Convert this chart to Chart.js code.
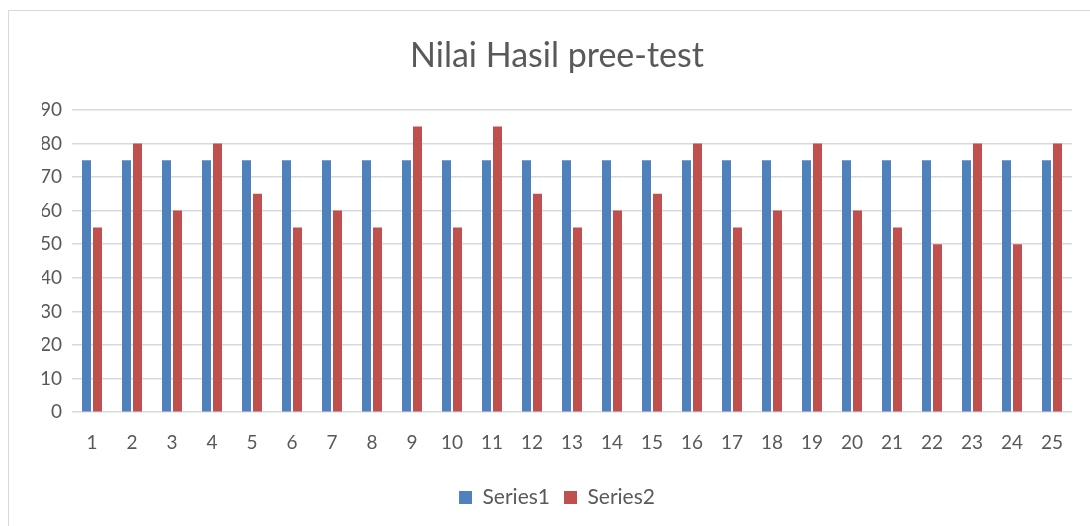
<!DOCTYPE html>
<html>
<head>
<meta charset="utf-8">
<script src="https://cdn.jsdelivr.net/npm/chart.js@4/dist/chart.umd.min.js"></script>
<style>
  html, body { margin: 0; padding: 0; background: #fff; }
  #wrap { position: relative; width: 1090px; height: 526px; }
  #frame { position: absolute; left: 8px; top: 10px; width: 1100px; height: 530px; border: 1px solid #d9d9d9; box-sizing: border-box; }
  canvas { position: absolute; left: 0; top: 0; }
</style>
</head>
<body>
<div id="wrap">
  <div id="frame"></div>
  <canvas id="chart" width="1090" height="526"></canvas>
</div>
<script>
const TITLE = 'Nilai Hasil pree-test';
const categories = ['1','2','3','4','5','6','7','8','9','10','11','12','13','14','15','16','17','18','19','20','21','22','23','24','25'];
const series1 = [75,75,75,75,75,75,75,75,75,75,75,75,75,75,75,75,75,75,75,75,75,75,75,75,75];
const series2 = [55,80,60,80,65,55,60,55,85,55,85,65,55,60,65,80,55,60,80,60,55,50,80,50,80];
const yTicks = [0,10,20,30,40,50,60,70,80,90];

const FONT = "Lato, 'Open Sans', sans-serif";
const GREY = '#595959';

new Chart(document.getElementById('chart'), {
  type: 'bar',
  data: {
    labels: categories,
    datasets: [
      { label: 'Series1', data: series1, backgroundColor: '#4F81BD', categoryPercentage: 0.55, barPercentage: 0.82 },
      { label: 'Series2', data: series2, backgroundColor: '#C0504D', categoryPercentage: 0.55, barPercentage: 0.82 },
    ],
  },
  options: {
    responsive: false,
    animation: false,
    layout: { padding: { left: 42, right: 18, top: 0, bottom: 8 } },
    plugins: {
      title: { display: true, text: TITLE, color: GREY, font: { family: FONT, size: 34, weight: 'normal' }, padding: { top: 36, bottom: 33 } },
      legend: {
        position: 'bottom',
        labels: { color: GREY, font: { family: FONT, size: 21 }, boxWidth: 13, boxHeight: 13, padding: 14 },
      },
      tooltip: { enabled: false },
    },
    scales: {
      x: {
        grid: { display: false },
        border: { display: false },
        afterFit: (s) => { s.height += 8; },
        ticks: { color: GREY, font: { family: FONT, size: 19 }, padding: 11, maxRotation: 0 },
      },
      y: {
        min: 0, max: 90,
        afterBuildTicks: (s) => { s.ticks = yTicks.map(v => ({ value: v })); },
        afterFit: (s) => { s.width = 30; },
        grid: { color: '#d9d9d9', lineWidth: 1.5, drawTicks: false },
        border: { display: false },
        ticks: { color: GREY, font: { family: FONT, size: 19 }, padding: 10 },
      },
    },
  },
});
</script>
</body>
</html>
